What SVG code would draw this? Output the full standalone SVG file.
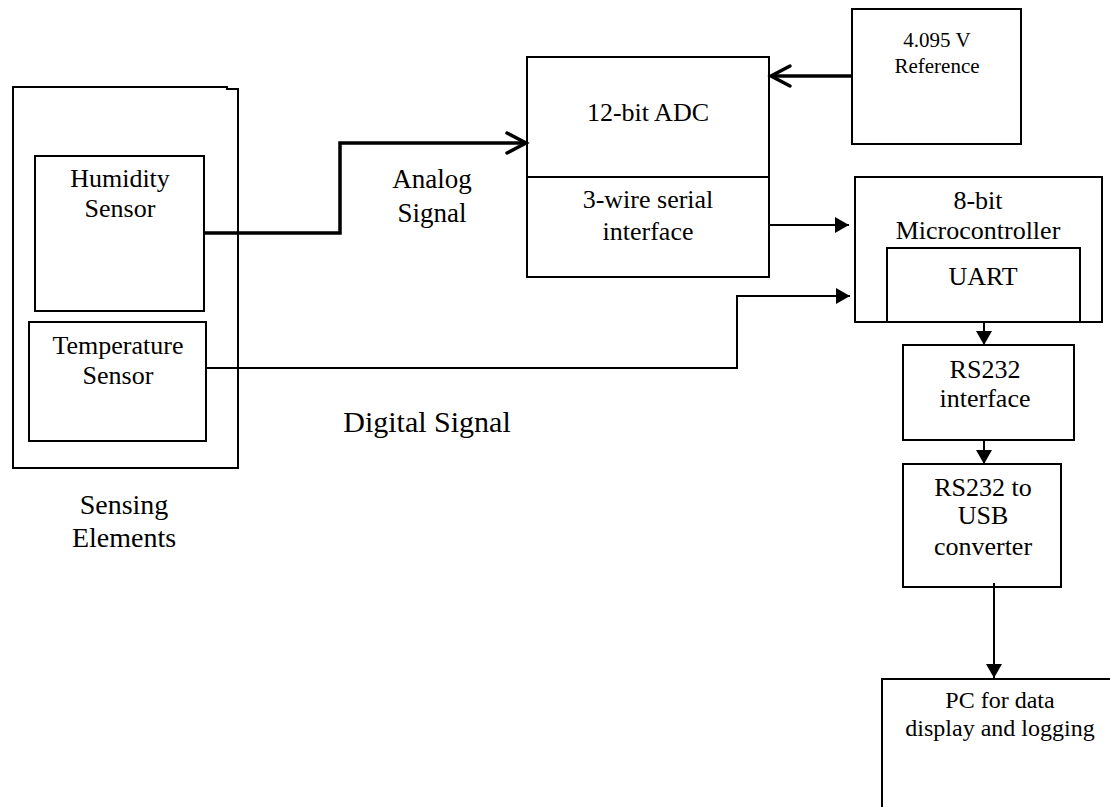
<svg xmlns="http://www.w3.org/2000/svg" width="1110" height="807" viewBox="0 0 1110 807" font-family="'Liberation Serif', serif">
<style>
.box{fill:#fff;stroke:#000;stroke-width:2}
.ln{fill:none;stroke:#000;stroke-width:2}
.thick{fill:none;stroke:#000;stroke-width:3.5}
text{font-family:'Liberation Serif', serif;fill:#000;text-anchor:middle}
.t26{font-size:26px}
</style>
<defs>
<marker id="tri" viewBox="0 0 14 16" markerWidth="14" markerHeight="16" refX="14" refY="8" markerUnits="userSpaceOnUse" orient="auto">
<path d="M0,0 L14,8 L0,16 z" fill="#000"/>
</marker>
<marker id="chev" viewBox="0 0 20 20" markerWidth="20" markerHeight="20" refX="19" refY="10" markerUnits="userSpaceOnUse" orient="auto" overflow="visible">
<path d="M0,0 L19,10 L0,20" fill="none" stroke="#000" stroke-width="3.5" stroke-linecap="round" stroke-linejoin="miter"/>
</marker>
</defs>
<rect width="1110" height="807" fill="#fff"/>

<g id="sensing">
<path d="M13,87 L227,87 L227,89 L238,89 L238,468 L13,468 Z" class="box"/>
<text x="124" y="514" style="font-size:28px">Sensing</text>
<text x="124" y="547" style="font-size:28px">Elements</text>
</g>
<g id="humidity">
<rect x="35" y="156" width="169" height="155" class="box"/>
<text x="120" y="187" class="t26">Humidity</text>
<text x="120" y="217" class="t26">Sensor</text>
</g>
<g id="temperature">
<rect x="29" y="322" width="177" height="119" class="box"/>
<text x="118" y="354" class="t26">Temperature</text>
<text x="118" y="384" class="t26">Sensor</text>
</g>
<g id="adc">
<rect x="527" y="57" width="242" height="220" class="box"/>
<line x1="527" y1="177" x2="769" y2="177" class="ln"/>
<text x="648" y="121" class="t26">12-bit ADC</text>
<text x="648" y="208" class="t26">3-wire serial</text>
<text x="648" y="240" class="t26">interface</text>
</g>
<g id="reference">
<rect x="852" y="9" width="169" height="135" class="box"/>
<text x="937" y="47" style="font-size:21px">4.095 V</text>
<text x="937" y="73" style="font-size:21px">Reference</text>
</g>
<g id="micro">
<rect x="855" y="177" width="247" height="145" class="box"/>
<text x="978" y="209" class="t26">8-bit</text>
<text x="978" y="239" class="t26">Microcontroller</text>
</g>
<g id="uart">
<rect x="887" y="248" width="193" height="74" class="box" stroke-width="2.5"/>
<text x="983" y="285" class="t26">UART</text>
</g>
<g id="rs232">
<rect x="903" y="345" width="171" height="95" class="box"/>
<text x="985" y="378" class="t26">RS232</text>
<text x="985" y="407" class="t26">interface</text>
</g>
<g id="usb">
<rect x="903" y="464" width="158" height="123" class="box"/>
<text x="983" y="496" class="t26">RS232 to</text>
<text x="983" y="524" class="t26">USB</text>
<text x="983" y="555" class="t26">converter</text>
</g>
<g id="pc">
<path d="M882,810 L882,679 L1112,679" class="ln"/>
<text x="1000" y="708" style="font-size:24px">PC for data</text>
<text x="1000" y="736" style="font-size:24px">display and logging</text>
</g>
<g id="labels">
<text x="432" y="188" style="font-size:27px">Analog</text>
<text x="432" y="222" style="font-size:27px">Signal</text>
<text x="427" y="432" style="font-size:30px">Digital Signal</text>
</g>

<g id="connectors">
<path d="M204,233 L340,233 L340,143 L526,143" class="thick" stroke-width="3" marker-end="url(#chev)"/>
<path d="M852,76 L771,76" class="thick" marker-end="url(#chev)"/>
<path d="M769,225 L849,225" class="ln" marker-end="url(#tri)"/>
<path d="M206,368 L737,368 L737,296 L850,296" class="ln" marker-end="url(#tri)"/>
<path d="M984,322 L984,345" class="ln" marker-end="url(#tri)"/>
<path d="M984,440 L984,464" class="ln" marker-end="url(#tri)"/>
<path d="M994,583 L994,678" class="ln" marker-end="url(#tri)"/>
</g>
</svg>
